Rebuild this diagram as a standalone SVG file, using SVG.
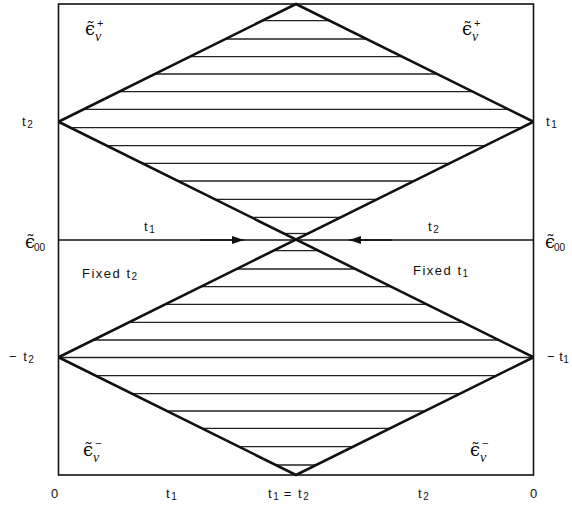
<svg xmlns="http://www.w3.org/2000/svg" width="572" height="510" viewBox="0 0 572 510">
<defs>
<style>
.frame{fill:none;stroke:#111;stroke-width:1.6}
.edge{fill:none;stroke:#111;stroke-width:2.6;stroke-linejoin:miter}
.hatch{stroke:#222;stroke-width:1.3}
.axis{fill:none;stroke:#111;stroke-width:1.6}
.lbl{font-family:"Liberation Sans",Arial,sans-serif;font-size:13px;fill:#111;letter-spacing:1.5px}
.sub{font-size:10px;letter-spacing:0}
.eps{font-family:"DejaVu Serif","Liberation Serif",serif;font-size:18px;fill:#111}
.nu{font-family:"Liberation Serif",serif;font-style:italic;font-size:14px;fill:#111}
.sup{font-family:"Liberation Sans",Arial,sans-serif;font-size:11px;fill:#111}
</style>
<marker id="arr" viewBox="0 0 12 8" refX="12" refY="4" markerWidth="12" markerHeight="8" markerUnits="userSpaceOnUse" orient="auto">
<path d="M0,0 L12,4 L0,8 Z" fill="#111"/>
</marker>
</defs>
<rect width="572" height="510" fill="#fff"/>
<g id="frame"><rect class="frame" x="58.5" y="4" width="475" height="471"/></g>
<g id="hatching" class="hatch">
<line x1="263" y1="20.7" x2="329" y2="20.7"/>
<line x1="226" y1="39" x2="366" y2="39"/>
<line x1="190" y1="56.7" x2="402" y2="56.7"/>
<line x1="155" y1="74" x2="437" y2="74"/>
<line x1="119" y1="91.7" x2="473" y2="91.7"/>
<line x1="84" y1="109.3" x2="508" y2="109.3"/>
<line x1="71" y1="127.7" x2="521" y2="127.7"/>
<line x1="107" y1="145.7" x2="485" y2="145.7"/>
<line x1="142" y1="163.3" x2="450" y2="163.3"/>
<line x1="178" y1="181" x2="414" y2="181"/>
<line x1="215" y1="199.3" x2="377" y2="199.3"/>
<line x1="251" y1="217.3" x2="341" y2="217.3"/>
<line x1="284" y1="233.5" x2="308" y2="233.5"/>
<line x1="274" y1="250.7" x2="318" y2="250.7"/>
<line x1="237" y1="269" x2="355" y2="269"/>
<line x1="201" y1="286.7" x2="391" y2="286.7"/>
<line x1="165" y1="304.3" x2="427" y2="304.3"/>
<line x1="129" y1="322.3" x2="463" y2="322.3"/>
<line x1="93" y1="340" x2="499" y2="340"/>
<line x1="60" y1="357.5" x2="532" y2="357.5"/>
<line x1="96" y1="375.7" x2="496" y2="375.7"/>
<line x1="132" y1="393.7" x2="460" y2="393.7"/>
<line x1="167" y1="411" x2="425" y2="411"/>
<line x1="202" y1="428.3" x2="390" y2="428.3"/>
<line x1="239" y1="446.7" x2="353" y2="446.7"/>
<line x1="276" y1="465" x2="316" y2="465"/>
</g>
<g id="diamonds" class="edge">
<polyline points="58.5,121.75 296,4 533.5,121.75"/>
<line x1="58.5" y1="121.75" x2="533.5" y2="357.25"/>
<line x1="533.5" y1="121.75" x2="58.5" y2="357.25"/>
<polyline points="58.5,357.25 296,475 533.5,357.25"/>
</g>
<g id="connectors">
<line class="axis" x1="58.5" y1="240" x2="533.5" y2="240"/>
<path class="axis" d="M200,240 L244,240" marker-end="url(#arr)"/>
<path class="axis" d="M392,240 L349,240" marker-end="url(#arr)"/>
</g>
<g id="eps-tl"><text class="eps" x="85" y="35">ϵ̃</text><text class="nu" x="95" y="41">ν</text><text class="sup" x="97" y="27">+</text></g>
<g id="eps-tr"><text class="eps" x="462" y="35">ϵ̃</text><text class="nu" x="472" y="41">ν</text><text class="sup" x="474" y="27">+</text></g>
<g id="eps-bl"><text class="eps" x="83" y="456">ϵ̃</text><text class="nu" x="93" y="462">ν</text><text class="sup" x="95" y="447">−</text></g>
<g id="eps-br"><text class="eps" x="470" y="456">ϵ̃</text><text class="nu" x="480" y="462">ν</text><text class="sup" x="482" y="447">−</text></g>
<g id="eps00-l"><text class="eps" x="25" y="248">ϵ̃</text><text class="lbl sub" x="34" y="251" font-size="11">00</text></g>
<g id="eps00-r"><text class="eps" x="545" y="248">ϵ̃</text><text class="lbl sub" x="554" y="251" font-size="11">00</text></g>
<g id="left-labels">
<text class="lbl" x="22" y="126">t<tspan class="sub" dy="2">2</tspan></text>
<text class="lbl" x="9" y="361">−  t<tspan class="sub" dy="2">2</tspan></text>
</g>
<g id="right-labels">
<text class="lbl" x="546" y="126">t<tspan class="sub" dy="2">1</tspan></text>
<text class="lbl" x="547" y="361" style="letter-spacing:0.5px">− t<tspan class="sub" dy="2">1</tspan></text>
</g>
<g id="axis-labels">
<text class="lbl" x="144" y="231">t<tspan class="sub" dy="2">1</tspan></text>
<text class="lbl" x="428" y="231">t<tspan class="sub" dy="2">2</tspan></text>
<text class="lbl" x="82" y="278">Fixed t<tspan class="sub" dy="2">2</tspan></text>
<text class="lbl" x="413" y="275">Fixed t<tspan class="sub" dy="2">1</tspan></text>
</g>
<g id="bottom-labels">
<text class="lbl" x="51" y="498">0</text>
<text class="lbl" x="166" y="498">t<tspan class="sub" dy="2">1</tspan></text>
<text class="lbl" x="268" y="498">t<tspan class="sub" dy="2">1</tspan><tspan dy="-2"> = t</tspan><tspan class="sub" dy="2">2</tspan></text>
<text class="lbl" x="418" y="498">t<tspan class="sub" dy="2">2</tspan></text>
<text class="lbl" x="530" y="498">0</text>
</g>
</svg>
